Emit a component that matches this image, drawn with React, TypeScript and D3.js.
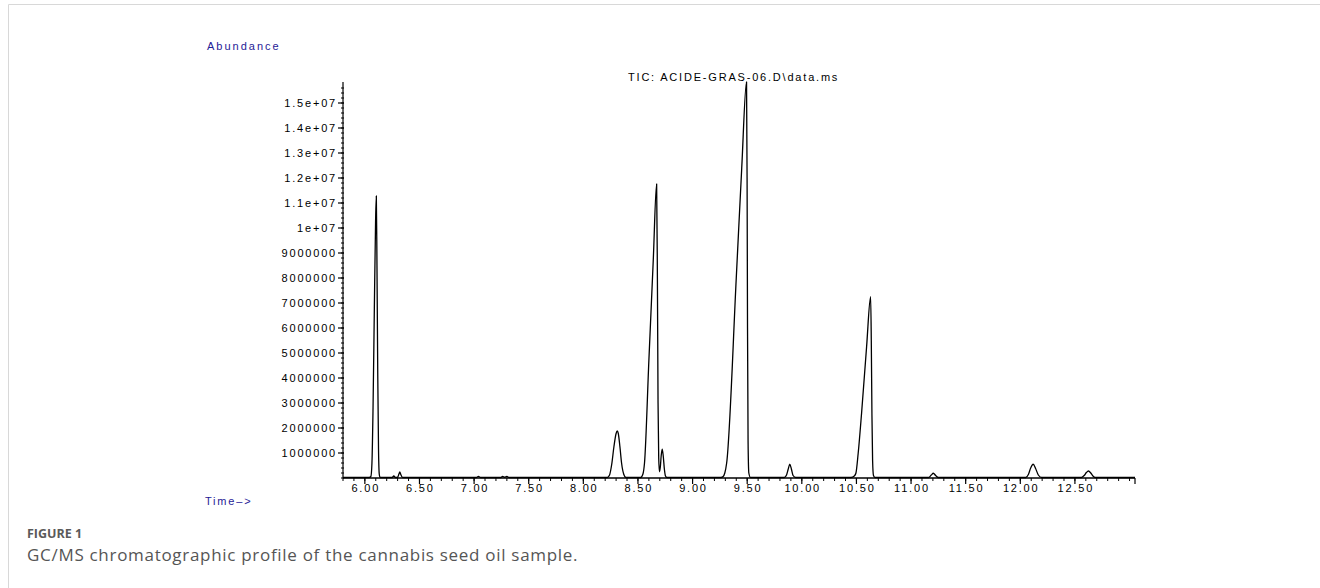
import React from 'react'
import * as d3 from 'd3'

// retention time (min) and abundance
const times = [
  5.8, 6.04, 6.055, 6.065, 6.075, 6.087, 6.098, 6.105, 6.111, 6.118, 6.125, 6.132, 6.14,
  6.25, 6.265, 6.28, 6.3, 6.312, 6.32, 6.328, 6.345,
  7.02, 7.04, 7.06, 7.245, 7.26, 7.28, 7.3, 7.32,
  8.22, 8.24, 8.26, 8.28, 8.3, 8.31, 8.32, 8.335, 8.35, 8.37, 8.39,
  8.525, 8.545, 8.56, 8.6, 8.64, 8.671, 8.678, 8.684, 8.69, 8.697, 8.705, 8.713, 8.722, 8.731, 8.742, 8.752, 8.765,
  9.26, 9.28, 9.295, 9.312, 9.4, 9.45, 9.494, 9.499, 9.503, 9.508, 9.515, 9.53,
  9.84, 9.86, 9.875, 9.89, 9.905, 9.92, 9.945,
  10.45, 10.48, 10.495, 10.516, 10.547, 10.593, 10.63, 10.636, 10.642, 10.648, 10.656, 10.67,
  11.16, 11.185, 11.204, 11.225, 11.25,
  12.05, 12.075, 12.095, 12.118, 12.14, 12.165, 12.195,
  12.56, 12.585, 12.605, 12.624, 12.645, 12.665, 12.685,
  13.05,
]
const abundance = [
  0.02e6, 0.02e6, 0.06e6, 0.6e6, 2.8e6, 6.8e6, 10.2e6, 11.28e6, 8.5e6, 4.2e6, 1.2e6, 0.15e6, 0.02e6,
  0.02e6, 0.08e6, 0.02e6, 0.03e6, 0.16e6, 0.24e6, 0.15e6, 0.02e6,
  0.02e6, 0.06e6, 0.02e6, 0.02e6, 0.06e6, 0.03e6, 0.06e6, 0.02e6,
  0.02e6, 0.12e6, 0.55e6, 1.25e6, 1.78e6, 1.88e6, 1.78e6, 1.25e6, 0.6e6, 0.15e6, 0.02e6,
  0.02e6, 0.15e6, 0.6e6, 4.7e6, 8.7e6, 11.76e6, 8.0e6, 3.0e6, 0.8e6, 0.25e6, 0.45e6, 0.9e6, 1.15e6, 0.9e6, 0.35e6, 0.08e6, 0.02e6,
  0.02e6, 0.06e6, 0.2e6, 0.6e6, 8.0e6, 12.4e6, 15.84e6, 12.0e6, 6.0e6, 1.5e6, 0.2e6, 0.02e6,
  0.02e6, 0.12e6, 0.35e6, 0.55e6, 0.35e6, 0.1e6, 0.02e6,
  0.02e6, 0.08e6, 0.19e6, 0.99e6, 2.59e6, 5.25e6, 7.25e6, 5.5e6, 2.5e6, 0.7e6, 0.1e6, 0.02e6,
  0.02e6, 0.12e6, 0.19e6, 0.1e6, 0.02e6,
  0.02e6, 0.15e6, 0.4e6, 0.55e6, 0.38e6, 0.12e6, 0.02e6,
  0.02e6, 0.1e6, 0.22e6, 0.28e6, 0.2e6, 0.08e6, 0.02e6,
  0.02e6,
]

const xLabels = ['6.00', '6.50', '7.00', '7.50', '8.00', '8.50', '9.00', '9.50', '10.00', '10.50', '11.00', '11.50', '12.00', '12.50']
const yLabels = [
  '1000000', '2000000', '3000000', '4000000', '5000000', '6000000', '7000000', '8000000', '9000000',
  '1e+07', '1.1e+07', '1.2e+07', '1.3e+07', '1.4e+07', '1.5e+07',
]

const W = 1320
const H = 588
const axFont = '"Liberation Sans", Arial, sans-serif'
const capFont = '"Open Sans", sans-serif'
const blue = '#1f2196'

export default function App() {
  const x = d3.scaleLinear().domain([5.8, 13.05]).range([343, 1135])
  const y = d3.scaleLinear().domain([0, 15.84e6]).range([478, 82])

  const pts: [number, number][] = times.map((t, i) => [t, abundance[i]])
  const line = d3.line<[number, number]>()
    .x(d => x(d[0]))
    .y(d => y(d[1]))
    .curve(d3.curveMonotoneX)

  const xMinor = d3.range(58, 131).map(v => v / 10)
  const yMinor = d3.range(0, 79).map(v => v * 2e5)
  const y0 = y(0)

  return (
    <div style={{ position: 'absolute', left: 0, top: 0 }}>
      <svg width={W} height={H} style={{ display: 'block', background: '#fff' }}>
        {/* frame */}
        <line x1={8.5} y1={4.5} x2={W} y2={4.5} stroke="#d8d8d8" />
        <line x1={8.5} y1={4.5} x2={8.5} y2={H} stroke="#d8d8d8" />

        <text x={207} y={50} fontFamily={axFont} fontSize={11} letterSpacing={2} fill={blue}>Abundance</text>
        <text x={628} y={81} fontFamily={axFont} fontSize={11} letterSpacing={1.8} fill="#000">TIC: ACIDE-GRAS-06.D\data.ms</text>

        {/* y axis */}
        <line x1={343} y1={y.range()[1]} x2={343} y2={y0} stroke="#000" strokeWidth={1.2} />
        {yMinor.map((v, i) => (
          <line key={'ym' + i} x1={341} x2={344} y1={y(v)} y2={y(v)} stroke="#000" strokeWidth={1} />
        ))}
        {yLabels.map((lab, i) => {
          const yy = y((i + 1) * 1e6)
          return (
            <g key={'yl' + i}>
              <line x1={338} x2={344} y1={yy} y2={yy} stroke="#000" strokeWidth={1.2} />
              <text x={337} y={yy + 4} textAnchor="end" fontFamily={axFont} fontSize={11} letterSpacing={1.8} fill="#000">{lab}</text>
            </g>
          )
        })}

        {/* x axis */}
        <line x1={343} y1={y0} x2={1135} y2={y0} stroke="#000" strokeWidth={1.3} />
        {xMinor.map((v, i) => (
          <line key={'xm' + i} x1={x(v)} x2={x(v)} y1={y0} y2={y0 + 3} stroke="#000" strokeWidth={1} />
        ))}
        <line x1={1135} x2={1135} y1={y0} y2={y0 + 6} stroke="#000" strokeWidth={1.2} />
        {xLabels.map((lab, i) => {
          const xx = x(+lab)
          return (
            <g key={'xl' + i}>
              <line x1={xx} x2={xx} y1={y0} y2={y0 + 6} stroke="#000" strokeWidth={1.2} />
              <text x={xx + 0.9} y={492} textAnchor="middle" fontFamily={axFont} fontSize={11} letterSpacing={1.8} fill="#000">{lab}</text>
            </g>
          )
        })}

        <text x={205} y={505} fontFamily={axFont} fontSize={11} letterSpacing={1.8} fill={blue}>Time–&gt;</text>

        {/* TIC trace */}
        <path d={line(pts) || ''} fill="none" stroke="#000" strokeWidth={1.3} strokeLinejoin="round" />

        {/* caption */}
        <text x={27} y={538} fontFamily={capFont} fontSize={12.5} fontWeight={700} fill="#5a5a5a">FIGURE 1</text>
        <text x={27} y={561} fontFamily={capFont} fontSize={17} letterSpacing={0.7} fill="#555">GC/MS chromatographic profile of the cannabis seed oil sample.</text>
      </svg>
    </div>
  )
}
